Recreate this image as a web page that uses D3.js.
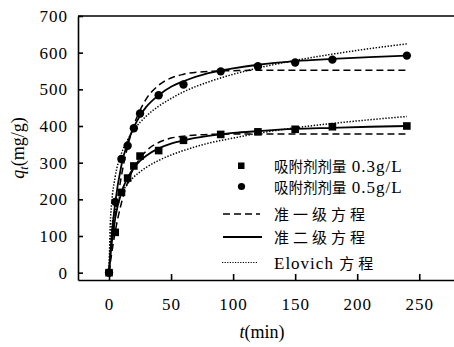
<!DOCTYPE html>
<html>
<head>
<meta charset="utf-8">
<script src="https://cdn.jsdelivr.net/npm/d3@7"></script>
<style>
  body { margin: 0; background: #fff; }
  text { font-family: "Liberation Serif", "Times New Roman", "DejaVu Serif", serif; }
</style>
</head>
<body>
<div id="chart"></div>
<script>
// Measured points
const tData = [0, 5, 10, 15, 20, 25, 40, 60, 90, 120, 150, 180, 240];
const q03 = [0, 110, 219, 258, 291, 318, 333, 361, 377, 384, 391, 398, 400];
const q05 = [0, 193, 310, 346, 394, 434, 484, 513, 549, 563, 573, 581, 592];

// Fitted curves
const tFit = [0, 1, 2, 5, 10, 15, 20, 25, 30, 40, 50, 60, 80, 100, 120, 150, 180, 210, 240];
const pfo03 = [0, 26, 49, 112, 190, 246, 285, 312, 332, 355, 367, 372, 377, 378, 378, 378, 378, 378, 378];
const pfo05 = [0, 35, 67, 153, 264, 344, 402, 443, 474, 511, 531, 541, 549, 551, 552, 552, 552, 552, 552];
const pso03 = [0, 42, 76, 149, 219, 259, 286, 305, 319, 339, 352, 361, 373, 381, 386, 392, 395, 398, 400];
const pso05 = [0, 51, 94, 191, 293, 355, 397, 428, 452, 484, 507, 522, 544, 557, 567, 577, 583, 588, 592];
const elo03 = [0, 82, 118, 172, 216, 242, 261, 275, 287, 306, 321, 333, 353, 367, 380, 395, 407, 417, 426];
const elo05 = [0, 131, 184, 262, 325, 362, 389, 410, 427, 454, 475, 493, 520, 541, 558, 579, 596, 611, 624];

const xTicks = [0, 50, 100, 150, 200, 250];
const yTicks = [0, 100, 200, 300, 400, 500, 600, 700];

const width = 454, height = 347;
const serif = '"Liberation Serif", "Times New Roman", "DejaVu Serif", serif';
const cjk = '"Noto Sans CJK SC", sans-serif';

const svg = d3.select("#chart")
    .append("svg")
    .attr("width", width)
    .attr("height", height);

// Scales
const x = d3.scaleLinear().domain([-25, 278]).range([78, 454]);
const y = d3.scaleLinear().domain([-20, 700]).range([280, 16]);

// Axes
const xAxis = svg.append("g")
    .attr("transform", `translate(0,${y(-20)})`)
    .call(d3.axisBottom(x).tickValues(xTicks).tickSize(-6).tickSizeOuter(0).tickPadding(18));

const yAxis = svg.append("g")
    .attr("transform", `translate(${x(-25)},0)`)
    .call(d3.axisLeft(y).tickValues(yTicks).tickSize(-5).tickSizeOuter(0).tickPadding(10));

[xAxis, yAxis].forEach(g => {
    g.attr("font-family", serif).attr("font-size", 17);
    g.select(".domain").attr("stroke", "#000").attr("stroke-width", 1.6);
    g.selectAll(".tick line").attr("stroke", "#000").attr("stroke-width", 1.6);
    g.selectAll(".tick text")
        .attr("fill", "#000")
        .style("letter-spacing", "1px");
});

// top border
svg.append("line")
    .attr("x1", x(-25)).attr("x2", x(278))
    .attr("y1", y(700)).attr("y2", y(700))
    .attr("stroke", "#000")
    .attr("stroke-width", 1.6);

// Curves
const fitLine = vals => d3.line()
    .x((d, i) => x(tFit[i]))
    .y(d => y(d))
    .curve(d3.curveMonotoneX)(vals);

const styles = {
    pfo: {dash: "7,4", w: 1.5},
    pso: {dash: null, w: 1.8},
    elo: {dash: "1.4,1.6", w: 1.5}
};

[[pfo03, "pfo"], [pfo05, "pfo"], [pso03, "pso"], [pso05, "pso"], [elo03, "elo"], [elo05, "elo"]]
    .forEach(([vals, k]) => {
        svg.append("path")
            .attr("d", fitLine(vals))
            .attr("fill", "none")
            .attr("stroke", "#000")
            .attr("stroke-width", styles[k].w)
            .attr("stroke-dasharray", styles[k].dash);
    });

// Data markers
svg.selectAll(".sq")
    .data(q03)
    .enter()
    .append("rect")
    .attr("x", (d, i) => x(tData[i]) - 3.8)
    .attr("y", d => y(d) - 3.8)
    .attr("width", 7.6)
    .attr("height", 7.6)
    .attr("fill", "#000");

svg.selectAll(".dot")
    .data(q05)
    .enter()
    .append("circle")
    .attr("cx", (d, i) => x(tData[i]))
    .attr("cy", d => y(d))
    .attr("r", 4.2)
    .attr("fill", "#000");

// Axis labels
const yl = svg.append("text")
    .attr("transform", "translate(24,148) rotate(-90)")
    .attr("text-anchor", "middle")
    .style("font-family", serif)
    .style("font-size", "18px");
yl.append("tspan").style("font-style", "italic").text("q");
yl.append("tspan").style("font-style", "italic").style("font-size", "12px").attr("dy", 4).text("t");
yl.append("tspan").attr("dy", -4).text("(mg/g)");

const xl = svg.append("text")
    .attr("x", 262)
    .attr("y", 338)
    .attr("text-anchor", "middle")
    .style("font-family", serif)
    .style("font-size", "18px");
xl.append("tspan").style("font-style", "italic").text("t");
xl.append("tspan").text("(min)");

// Legend
const legendY = [165.5, 186.5, 214, 237, 262.5];

const lg = svg.append("g");

lg.append("rect").attr("x", 238).attr("y", legendY[0] - 3).attr("width", 6.5).attr("height", 6.5).attr("fill", "#000");
lg.append("circle").attr("cx", 241.5).attr("cy", legendY[1]).attr("r", 3.6).attr("fill", "#000");
lg.append("line").attr("x1", 223).attr("x2", 260).attr("y1", legendY[2]).attr("y2", legendY[2])
    .attr("stroke", "#000").attr("stroke-width", 1.5).attr("stroke-dasharray", "7,4");
lg.append("line").attr("x1", 223).attr("x2", 262).attr("y1", legendY[3]).attr("y2", legendY[3])
    .attr("stroke", "#000").attr("stroke-width", 1.8);
lg.append("line").attr("x1", 222).attr("x2", 258).attr("y1", legendY[4]).attr("y2", legendY[4])
    .attr("stroke", "#000").attr("stroke-width", 1.2).attr("stroke-dasharray", "1.2,1.4");

const labels = [
    ["吸附剂剂量", " 0.3g/L", 14.5, 0],
    ["吸附剂剂量", " 0.5g/L", 14.5, 0],
    ["准一级方程", "", 15, 4],
    ["准二级方程", "", 15, 4],
    ["Elovich ", "方程", 15, 4]
];

labels.forEach((l, i) => {
    const t = lg.append("text")
        .attr("x", 274)
        .attr("y", legendY[i] + 6)
        .style("font-family", serif);
    if (i < 4) {
        t.append("tspan").style("font-family", cjk).style("font-size", l[2] + "px")
            .style("letter-spacing", l[3] + "px").text(l[0]);
        if (l[1]) t.append("tspan").style("font-family", serif).style("font-size", "17px")
            .style("letter-spacing", "1px").text(l[1]);
    } else {
        t.append("tspan").style("font-family", serif).style("font-size", "17px")
            .style("letter-spacing", "1px").text(l[0]);
        t.append("tspan").style("font-family", cjk).style("font-size", l[2] + "px")
            .style("letter-spacing", l[3] + "px").text(l[1]);
    }
});
</script>
</body>
</html>
